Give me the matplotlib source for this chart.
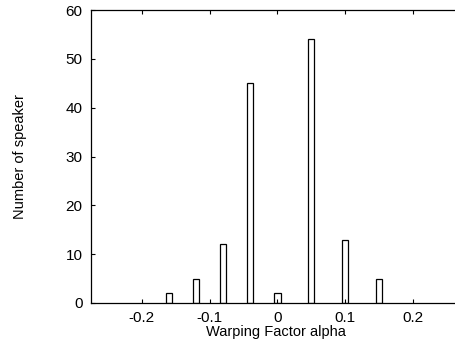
import matplotlib
matplotlib.use("Agg")
import matplotlib.pyplot as plt

# warping factor bins and speaker counts
alpha = [-0.16, -0.12, -0.08, -0.04, 0.0, 0.05, 0.10, 0.15]
n_speaker = [2, 5, 12, 45, 2, 54, 13, 5]
xticks = [-0.2, -0.1, 0, 0.1, 0.2]
xticklabels = ["-0.2", "-0.1", "0", "0.1", "0.2"]
yticks = [0, 10, 20, 30, 40, 50, 60]

plt.rcParams['font.family'] = ['Liberation Sans', 'DejaVu Sans']

fig = plt.figure(figsize=(4.56, 3.46), dpi=100)
ax = fig.add_axes([91 / 456, 43 / 346, (456 - 91) / 456 + 0.01, 293 / 346])

ax.bar(alpha, n_speaker, width=0.009, facecolor='white', edgecolor='black', linewidth=0.9)

ax.set_xlim(-0.275, 0.27)
ax.set_ylim(0, 60)
ax.set_xticks(xticks)
ax.set_xticklabels(xticklabels)
ax.set_yticks(yticks)
ax.tick_params(direction='in', top=True, right=False, labelsize=11, length=3, pad=6)
ax.spines['right'].set_visible(False)
for s in ax.spines.values():
    s.set_linewidth(0.9)

ax.set_xlabel("Warping Factor alpha", fontsize=10.5, labelpad=0)
ax.set_ylabel("Number of speaker", fontsize=10.5, labelpad=28)

fig.savefig("out.png", dpi=100)
